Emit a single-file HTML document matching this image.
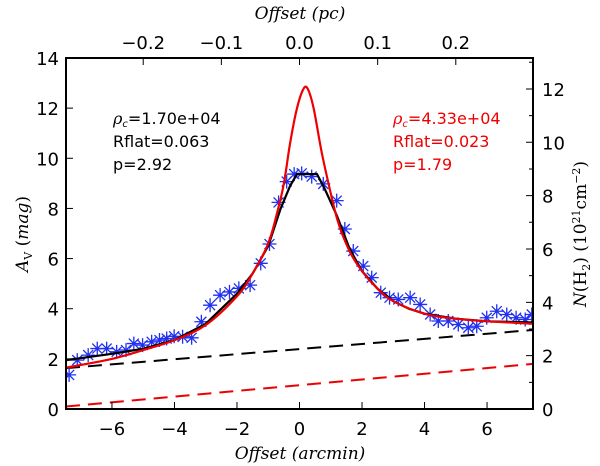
<!DOCTYPE html>
<html><head><meta charset="utf-8"><style>
html,body{margin:0;padding:0;background:#fff;}
svg{display:block;font-family:"DejaVu Sans","Liberation Sans",sans-serif;}
</style></head><body>
<svg id="chart" width="600" height="466" viewBox="0 0 600 466">
<rect x="0" y="0" width="600" height="466" fill="#fff"/>
<g id="marks"></g>
<g id="axes"></g>
<text x="300" y="19" text-anchor="middle" font-family="'DejaVu Serif','Liberation Serif',serif" font-style="italic" font-size="17">Offset (pc)</text>
<text x="300" y="459" text-anchor="middle" font-family="'DejaVu Serif','Liberation Serif',serif" font-style="italic" font-size="17">Offset (arcmin)</text>
<text transform="translate(28,234) rotate(-90)" text-anchor="middle" font-family="'DejaVu Serif','Liberation Serif',serif" font-size="17"><tspan font-style="italic">A</tspan><tspan font-size="11" dy="4">V</tspan><tspan dy="-4"> (</tspan><tspan font-style="italic">mag</tspan>)</text>
<text transform="translate(586,234) rotate(-90)" text-anchor="middle" font-family="'DejaVu Serif','Liberation Serif',serif" font-size="17"><tspan font-style="italic">N</tspan>(H<tspan font-size="11" dy="4">2</tspan><tspan dy="-4">)  (10</tspan><tspan font-size="11" dy="-6">21</tspan><tspan dy="6">cm</tspan><tspan font-size="11" dy="-6">−2</tspan><tspan dy="6">)</tspan></text>
<g font-size="16">
<text x="113" y="124" fill="#000"><tspan font-style="italic" font-family="'DejaVu Serif',serif">ρ</tspan><tspan font-size="10" dy="3" font-style="italic">c</tspan><tspan dy="-3">=1.70e+04</tspan></text>
<text x="113" y="147" fill="#000">Rflat=0.063</text>
<text x="113" y="170" fill="#000">p=2.92</text>
</g>
<g font-size="16">
<text x="393" y="124" fill="#e00"><tspan font-style="italic" font-family="'DejaVu Serif',serif">ρ</tspan><tspan font-size="10" dy="3" font-style="italic">c</tspan><tspan dy="-3">=4.33e+04</tspan></text>
<text x="393" y="147" fill="#e00">Rflat=0.023</text>
<text x="393" y="170" fill="#e00">p=1.79</text>
</g>
</svg>
<script>
const dataX=[-7.37,-7.11,-6.76,-6.47,-6.17,-5.85,-5.55,-5.30,-5.02,-4.73,-4.48,-4.25,-4.01,-3.74,-3.45,-3.14,-2.86,-2.54,-2.24,-1.94,-1.58,-1.24,-0.96,-0.67,-0.41,-0.17,0.07,0.39,0.76,1.19,1.45,1.72,2.04,2.31,2.60,2.88,3.16,3.54,3.86,4.18,4.44,4.76,5.08,5.40,5.67,5.99,6.31,6.63,6.93,7.22,7.43];
const dataY=[1.36,1.95,2.15,2.41,2.41,2.28,2.35,2.61,2.55,2.68,2.75,2.81,2.90,2.88,2.84,3.48,4.14,4.54,4.67,4.81,4.94,5.81,6.58,8.24,9.07,9.37,9.40,9.27,8.98,8.31,7.18,6.30,5.70,5.24,4.64,4.44,4.37,4.44,4.17,3.77,3.51,3.51,3.37,3.24,3.30,3.64,3.90,3.77,3.64,3.57,3.77];
const blackX=[-7.47,-6,-5,-4,-3,-2,-1.5,-1,-0.6,-0.3,-0.08,0.56,0.8,1.2,1.6,2,2.5,3,3.5,4,5,6,7.47];
const blackY=[1.95,2.2,2.4,2.75,3.4,4.6,5.4,6.5,8.0,8.9,9.37,9.37,8.8,7.7,6.4,5.5,4.8,4.3,4.0,3.8,3.6,3.5,3.45];
const redX=[-7.47,-6,-5,-4,-3,-2,-1.5,-1,-0.7,-0.5,-0.3,-0.1,0.1,0.25,0.45,0.75,1.2,1.6,2,2.5,3,4,5,6,7.47];
const redY=[1.65,2.0,2.35,2.75,3.35,4.5,5.4,6.6,7.9,9.0,10.6,11.9,12.7,12.8,12.0,10.0,7.6,6.3,5.5,4.8,4.3,3.8,3.6,3.5,3.4];
const bgBlackX=[-7.47,7.47], bgBlackY=[1.63,3.15];
const bgRedX=[-7.47,7.47], bgRedY=[0.1,1.8];
const xTicks=[-6,-4,-2,0,2,4,6];
const yTicks=[0,2,4,6,8,10,12,14];
const rTicks=[0,2,4,6,8,10,12];
const pcTicks=[-0.2,-0.1,0.0,0.1,0.2];
const pcTickLabels=["−0.2","−0.1","0.0","0.1","0.2"];

const L=66,R=533,T=58,B=409,XMIN=-7.47,XMAX=7.47,YMAX=14,NMAX=13.16;
const sx=v=>L+(v-XMIN)/(XMAX-XMIN)*(R-L);
const sy=v=>B-v/YMAX*(B-T);
const sr=v=>B-v/NMAX*(B-T);
const spc=v=>sx(v*25);
const NS='http://www.w3.org/2000/svg';
const marks=document.getElementById('marks'), axes=document.getElementById('axes');
function mk(tag,at,parent){const e=document.createElementNS(NS,tag);for(const k in at)e.setAttribute(k,at[k]);parent.appendChild(e);return e;}
const clip=mk('clipPath',{id:'cp'},marks);mk('rect',{x:L,y:T,width:R-L,height:B-T},clip);
const g=mk('g',{'clip-path':'url(#cp)'},marks);
function smoothPath(xs,ys){
  const P=xs.map((x,i)=>[sx(x),sy(ys[i])]);
  let d='M'+P[0][0].toFixed(1)+','+P[0][1].toFixed(1);
  for(let i=0;i<P.length-1;i++){
    const p0=P[Math.max(0,i-1)],p1=P[i],p2=P[i+1],p3=P[Math.min(P.length-1,i+2)];
    const c1=[p1[0]+(p2[0]-p0[0])/6,p1[1]+(p2[1]-p0[1])/6];
    const c2=[p2[0]-(p3[0]-p1[0])/6,p2[1]-(p3[1]-p1[1])/6];
    d+=`C${c1[0].toFixed(1)},${c1[1].toFixed(1)} ${c2[0].toFixed(1)},${c2[1].toFixed(1)} ${p2[0].toFixed(1)},${p2[1].toFixed(1)}`;
  }
  return d;
}
function line(xs,ys,color,w,dash,name,smooth){
  const d=smooth?smoothPath(xs,ys):xs.map((x,i)=>(i?'L':'M')+sx(x).toFixed(1)+','+sy(ys[i]).toFixed(1)).join('');
  const p=mk('path',{d:d,fill:'none',stroke:color,'stroke-width':w,'stroke-dasharray':dash||'none'},g);
  
  
}
line(bgBlackX,bgBlackY,'#000',2,'14,8','black-background-dashed',false);
line(bgRedX,bgRedY,'#e00',2,'14,8','red-background-dashed',false);
dataX.forEach((x,i)=>{
  const cx=sx(x),cy=sy(dataY[i]),s=7;
  const m=mk('path',{d:`M${cx-s},${cy}H${cx+s}M${cx},${cy-s}V${cy+s}M${cx-5},${cy-5}L${cx+5},${cy+5}M${cx-5},${cy+5}L${cx+5},${cy-5}`,stroke:'#2030f0','stroke-width':1.3,fill:'none'},g);
  
  
});
line(blackX,blackY,'#000',2.2,null,'black-model-curve',false);
line(redX,redY,'#e00',2.2,null,'red-model-curve',true);
const frame=mk('rect',{x:L,y:T,width:R-L,height:B-T,fill:'none',stroke:'#000','stroke-width':2},axes);


function txt(x,y,s,anchor,name){const t=mk('text',{x:x,y:y,'text-anchor':anchor,'font-size':18},axes);t.textContent=s;
  
  }
xTicks.forEach(v=>{const x=sx(v);mk('path',{d:`M${x},${B}v-7`,stroke:'#000','stroke-width':1},axes);txt(x,B+26,(v<0?'−':'')+Math.abs(v),'middle','x-tick-label');});
yTicks.forEach(v=>{const y=sy(v);mk('path',{d:`M${L},${y}h7`,stroke:'#000','stroke-width':1},axes);txt(L-7,y+7,String(v),'end','y-tick-label');});
rTicks.forEach(v=>{const y=sr(v);mk('path',{d:`M${R},${y}h-7M${R},${sr(v+1)}h-4`,stroke:'#000','stroke-width':1},axes);txt(R+9,y+7,String(v),'start','right-tick-label');});
pcTicks.forEach((v,i)=>{const x=spc(v);mk('path',{d:`M${x},${T}v7`,stroke:'#000','stroke-width':1},axes);txt(x,T-9,pcTickLabels[i],'middle','top-tick-label');});
</script>
</body></html>
